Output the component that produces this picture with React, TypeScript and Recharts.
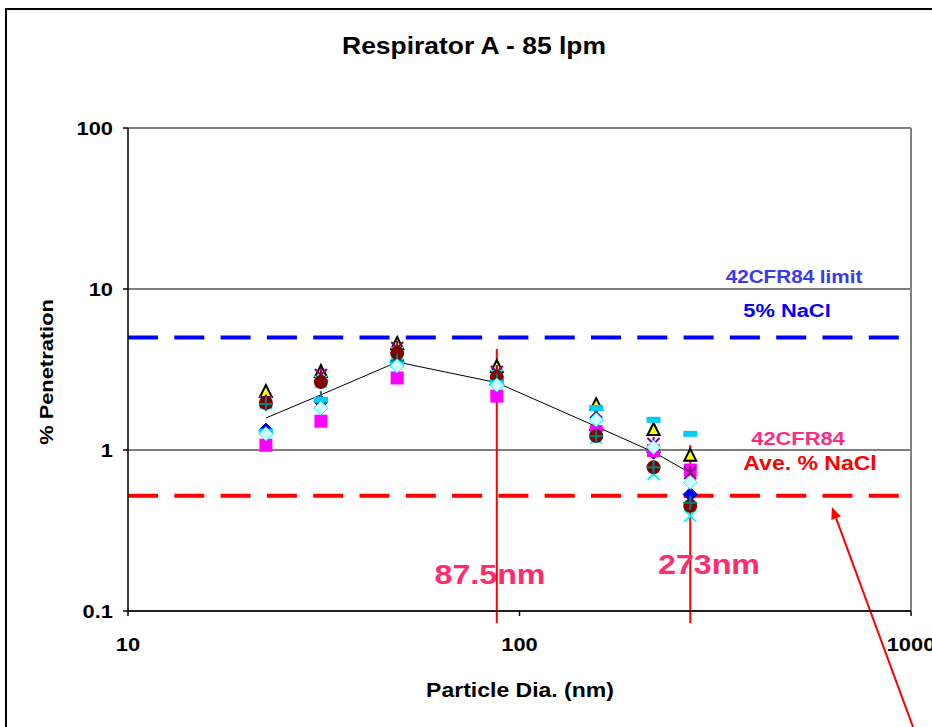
import React from "react";
import {
  ComposedChart,
  Scatter,
  Line,
  XAxis,
  YAxis,
  CartesianGrid,
  ReferenceLine,
} from "recharts";

// particle diameters (nm)
const sizes = [22.5, 31.1, 48.7, 87.5, 157, 220, 273];

// % penetration per test run
const runBlueDiamond = [1.33, 1.99, 3.5, 2.55, 1.33, 0.97, 0.53];
const runMagentaSquare = [1.07, 1.51, 2.8, 2.16, 1.3, 0.99, 0.75];
const runYellowTriangle = [2.29, 3.05, 4.55, 3.28, 1.9, 1.33, 0.92];
const runCyanX = [1.95, 2.65, 4.0, 2.9, 1.19, 0.71, 0.39];
const runPurpleStar = [2.0, 2.92, 4.3, 3.05, 1.72, 1.09, 0.72];
const runMaroonCircle = [1.96, 2.64, 4.0, 2.84, 1.22, 0.78, 0.45];
const runTealPlus = [1.93, 2.1, 3.6, 2.7, 1.22, 0.78, 0.47];
const runSkyDash = [1.3, 2.05, 3.4, 2.6, 1.82, 1.54, 1.26];
const runPaleDiamond = [1.26, 1.82, 3.33, 2.53, 1.54, 1.04, 0.63];
const average = [1.58, 2.2, 3.52, 2.62, 1.4, 0.97, 0.72];

const xTicks = [10, 100, 1000];
const yTicks = [0.1, 1, 10, 100];

const limitPct = 5;
const avgNaClPct = 0.52;
const mpps = [87.5, 273];

const toPoints = (vals: number[]) => sizes.map((x, i) => ({ x, y: vals[i] }));

const FONT = "'Liberation Sans', Arial, sans-serif";
const STRETCH = 1.15;

function WideText({ x, y, size, color = "#000", anchor = "middle", rotate = 0, children }: any) {
  return (
    <text
      transform={`translate(${x},${y}) rotate(${rotate}) scale(${STRETCH},1)`}
      fontSize={size}
      fontWeight="bold"
      fontFamily={FONT}
      textAnchor={anchor}
      fill={color}
    >
      {children}
    </text>
  );
}

const Diamond = (fill: string, stroke: string) => (p: any) => (
  <polygon
    points={`${p.cx},${p.cy - 7} ${p.cx + 7},${p.cy} ${p.cx},${p.cy + 7} ${p.cx - 7},${p.cy}`}
    fill={fill}
    stroke={stroke}
    strokeWidth={1}
  />
);
const Square = (p: any) => <rect x={p.cx - 6.5} y={p.cy - 6.5} width={13} height={13} fill="#FF00FF" />;
const Triangle = (p: any) => (
  <polygon
    points={`${p.cx},${p.cy - 7} ${p.cx + 6},${p.cy + 5} ${p.cx - 6},${p.cy + 5}`}
    fill="#FFFF00"
    stroke="#000"
    strokeWidth={2}
  />
);
const Cross = (p: any) => (
  <g stroke="#00FFFF" strokeWidth={2}>
    <line x1={p.cx - 6} y1={p.cy - 6} x2={p.cx + 6} y2={p.cy + 6} />
    <line x1={p.cx - 6} y1={p.cy + 6} x2={p.cx + 6} y2={p.cy - 6} />
  </g>
);
const Star = (p: any) => (
  <g stroke="#800080" strokeWidth={2}>
    <line x1={p.cx - 6} y1={p.cy - 6} x2={p.cx + 6} y2={p.cy + 6} />
    <line x1={p.cx - 6} y1={p.cy + 6} x2={p.cx + 6} y2={p.cy - 6} />
    <line x1={p.cx} y1={p.cy - 7} x2={p.cx} y2={p.cy + 7} />
  </g>
);
const Circle = (p: any) => <circle cx={p.cx} cy={p.cy} r={7} fill="#800000" />;
const Plus = (p: any) => (
  <g stroke="#008080" strokeWidth={2}>
    <line x1={p.cx - 7} y1={p.cy} x2={p.cx + 7} y2={p.cy} />
    <line x1={p.cx} y1={p.cy - 7} x2={p.cx} y2={p.cy + 7} />
  </g>
);
const Dash = (p: any) => <rect x={p.cx - 7} y={p.cy - 3} width={14} height={6} fill="#00CCFF" />;

const arrowShape = (p: any) => {
  const { x1, y1, x2, y2 } = p;
  const ang = Math.atan2(y2 - y1, x2 - x1);
  const len = 12;
  const w = 5;
  const bx = x2 - len * Math.cos(ang);
  const by = y2 - len * Math.sin(ang);
  const nx = -Math.sin(ang) * w;
  const ny = Math.cos(ang) * w;
  return (
    <g>
      <line x1={x1} y1={y1} x2={bx} y2={by} stroke="#FF0000" strokeWidth={2} />
      <polygon points={`${x2},${y2} ${bx + nx},${by + ny} ${bx - nx},${by - ny}`} fill="#FF0000" />
    </g>
  );
};

const YTick = (p: any) => (
  <WideText x={p.x - 8} y={p.y + 7} size={19} anchor="end">
    {p.payload.value}
  </WideText>
);
const XTick = (p: any) => (
  <WideText x={p.x} y={p.y + 33} size={19}>
    {p.payload.value}
  </WideText>
);

const series = [
  { name: "A", vals: runBlueDiamond, shape: Diamond("#0000FF", "#000080") },
  { name: "B", vals: runMagentaSquare, shape: Square },
  { name: "C", vals: runYellowTriangle, shape: Triangle },
  { name: "D", vals: runCyanX, shape: Cross },
  { name: "E", vals: runPurpleStar, shape: Star },
  { name: "F", vals: runMaroonCircle, shape: Circle },
  { name: "G", vals: runTealPlus, shape: Plus },
  { name: "H", vals: runSkyDash, shape: Dash },
  { name: "I", vals: runPaleDiamond, shape: Diamond("#CCFFFF", "#00FFFF") },
];

export default function App() {
  return (
    <div
      style={{
        position: "absolute",
        left: 0,
        top: 0,
        width: 932,
        height: 727,
        overflow: "hidden",
        background: "#fff",
      }}
    >
      <div
        style={{
          position: "absolute",
          left: 5,
          top: 8,
          width: 940,
          height: 740,
          border: "2px solid #000",
        }}
      />
      <div style={{ position: "absolute", left: 0, top: 0 }}>
        <ComposedChart width={932} height={727} margin={{ top: 128, right: 21, left: 68, bottom: 86 }}>
          <CartesianGrid horizontal vertical={false} stroke="#000" strokeWidth={1} />
          <XAxis
            dataKey="x"
            type="number"
            scale="log"
            domain={[10, 1000]}
            ticks={xTicks}
            allowDataOverflow
            height={30}
            stroke="#000"
            strokeWidth={1.5}
            tickSize={5}
            tick={<XTick />}
          />
          <YAxis
            type="number"
            scale="log"
            domain={[0.1, 100]}
            ticks={yTicks}
            allowDataOverflow
            width={60}
            stroke="#000"
            strokeWidth={1.5}
            tickSize={5}
            tick={<YTick />}
          />
          <ReferenceLine y={100} stroke="#808080" strokeWidth={2} />
          <ReferenceLine x={1000} stroke="#808080" strokeWidth={2} />
          <ReferenceLine y={limitPct} stroke="#0000FF" strokeWidth={4} strokeDasharray="30 16.3" />
          <ReferenceLine y={avgNaClPct} stroke="#FF0000" strokeWidth={4} strokeDasharray="30 16.3" />
          <Line
            data={toPoints(average)}
            dataKey="y"
            type="linear"
            stroke="#000"
            strokeWidth={1}
            dot={false}
            activeDot={false}
            isAnimationActive={false}
          />
          {series.map((s) => (
            <Scatter
              key={s.name}
              name={s.name}
              data={toPoints(s.vals)}
              dataKey="y"
              shape={s.shape}
              isAnimationActive={false}
            />
          ))}
          <ReferenceLine
            segment={[{ x: mpps[0], y: 4.24 }, { x: mpps[0], y: 0.084 }]}
            stroke="#FF0000"
            strokeWidth={2}
            ifOverflow="visible"
          />
          <ReferenceLine
            segment={[{ x: mpps[1], y: 1.07 }, { x: mpps[1], y: 0.084 }]}
            stroke="#FF0000"
            strokeWidth={2}
            ifOverflow="visible"
          />
          <ReferenceLine
            segment={[{ x: 1012, y: 0.019 }, { x: 628, y: 0.443 }]}
            ifOverflow="visible"
            shape={arrowShape}
          />
        </ComposedChart>
      </div>
      <svg
        width={932}
        height={727}
        style={{ position: "absolute", left: 0, top: 0, pointerEvents: "none" }}
      >
        <WideText x={474} y={54} size={23}>Respirator A - 85 lpm</WideText>
        <WideText x={520} y={697} size={20}>Particle Dia. (nm)</WideText>
        <WideText x={53} y={372} size={19} rotate={-90}>% Penetration</WideText>
        <WideText x={794} y={283} size={18} color="#3A3AF0">42CFR84 limit</WideText>
        <WideText x={787} y={317} size={19} color="#0000FF">5% NaCl</WideText>
        <WideText x={798} y={445} size={19} color="#FF2B80">42CFR84</WideText>
        <WideText x={810} y={470} size={20} color="#FF0000">Ave. % NaCl</WideText>
        <WideText x={490} y={584} size={28} color="#FF2B6E">87.5nm</WideText>
        <WideText x={709} y={574} size={28} color="#FF2B6E">273nm</WideText>
      </svg>
    </div>
  );
}
